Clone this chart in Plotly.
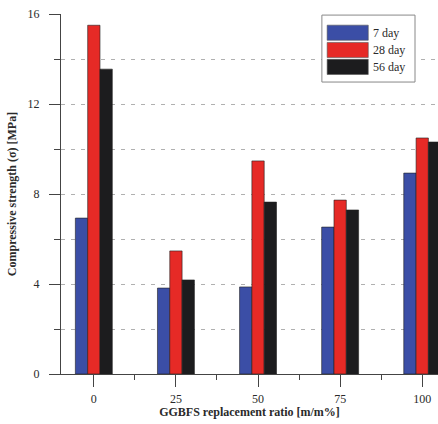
import plotly.graph_objects as go

ratios = [0, 25, 50, 75, 100]
series_names = ["7 day", "28 day", "56 day"]
day7 = [6.93, 3.82, 3.87, 6.53, 8.93]
day28 = [15.5, 5.47, 9.47, 7.73, 10.49]
day56 = [13.55, 4.18, 7.64, 7.29, 10.31]
colors = ["#3b4ea6", "#e62a26", "#1c1c1e"]
y_ticks = [0, 4, 8, 12, 16]

SERIF = "Liberation Serif, Times New Roman, serif"
TXT = "#2a2a2a"

fig = go.Figure()
for name, vals, col in zip(series_names, [day7, day28, day56], colors):
    fig.add_trace(go.Bar(x=ratios, y=vals, name=name, marker_color=col,
                         marker_line=dict(color="#202020", width=0.6),
                         showlegend=False))

# custom legend (large swatches like the reference)
lx0, lx1 = 0.692, 0.939
ly0, ly1 = 0.811, 0.997
fig.add_shape(type="rect", xref="paper", yref="paper", x0=lx0, x1=lx1, y0=ly0, y1=ly1,
              line=dict(color="#888888", width=1), fillcolor="white", layer="above")
row_centers = [0.948, 0.900, 0.853]
for name, col, yc in zip(series_names, colors, row_centers):
    fig.add_shape(type="rect", xref="paper", yref="paper", x0=0.706, x1=0.815,
                  y0=yc - 0.021, y1=yc + 0.021, fillcolor=col,
                  line=dict(color="#555555", width=0.6), layer="above")
    fig.add_annotation(xref="paper", yref="paper", x=0.823, y=yc, text=name,
                       showarrow=False, xanchor="left", yanchor="middle",
                       font=dict(family=SERIF, size=12, color=TXT))

fig.update_layout(
    width=438, height=424,
    margin=dict(l=61, r=0, t=14, b=50),
    paper_bgcolor="white", plot_bgcolor="white",
    barmode="group", bargap=0.55, bargroupgap=0,
    font=dict(family=SERIF, size=12, color=TXT),
)
fig.update_xaxes(
    range=[-10, 104.8], tickvals=ratios, ticktext=[str(r) for r in ratios],
    showline=True, linecolor="#444444", linewidth=1.2,
    ticks="outside", ticklen=12, tickcolor="#444444", tickwidth=1.2,
    minor=dict(tick0=0, dtick=12.5, ticks="outside", ticklen=5, tickcolor="#444444"),
    showgrid=False, zeroline=False, ticklabelstandoff=1,
    tickfont=dict(family=SERIF, size=12, color=TXT),
    title=dict(text="<b>GGBFS replacement ratio [m/m%]</b>", standoff=3,
               font=dict(family=SERIF, size=12, color=TXT)),
)
fig.update_yaxes(
    range=[0, 16], tickvals=y_ticks,
    showline=True, linecolor="#444444", linewidth=1.2,
    ticks="outside", ticklen=11, tickcolor="#444444", tickwidth=1.2,
    showgrid=True, gridcolor="#b0b0b0", griddash="4px,6px", gridwidth=1,
    minor=dict(dtick=2, ticks="outside", ticklen=6, tickcolor="#444444",
               showgrid=True, gridcolor="#b0b0b0", griddash="4px,6px", gridwidth=1),
    zeroline=False, ticklabelstandoff=7,
    tickfont=dict(family=SERIF, size=12, color=TXT),
    title=dict(text="<b>Compressive strength (σ) [MPa]</b>", standoff=8,
               font=dict(family=SERIF, size=12, color=TXT)),
)

fig.write_html("out.html")
